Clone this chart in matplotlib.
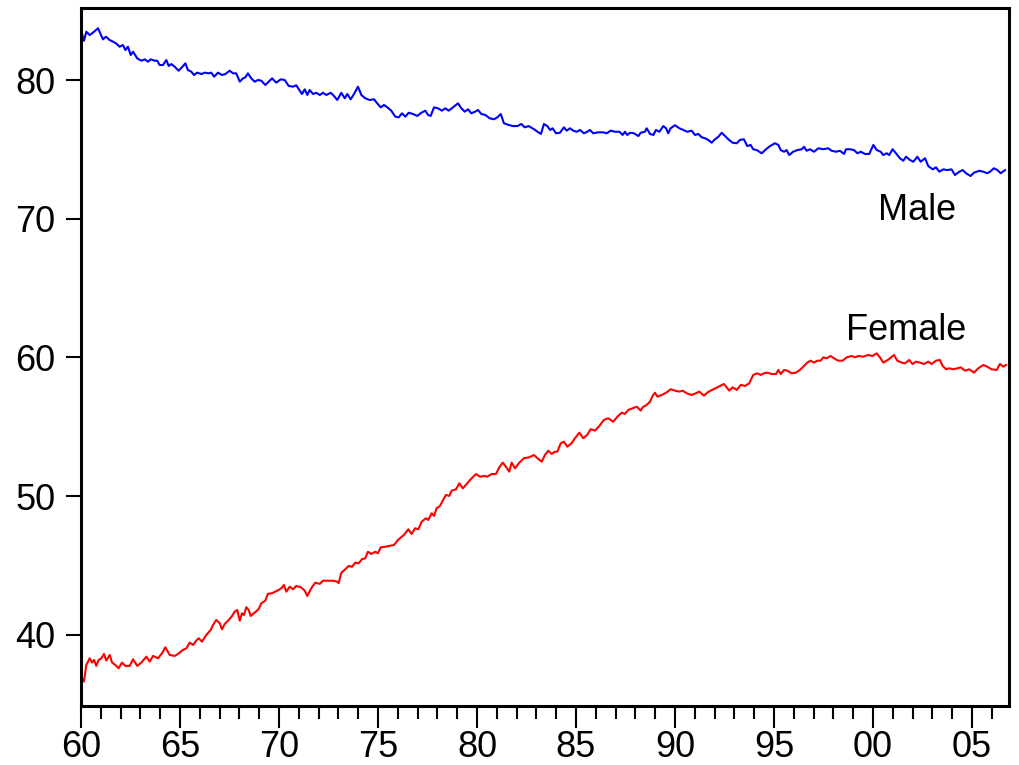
import matplotlib
matplotlib.use("Agg")
import matplotlib.pyplot as plt
from matplotlib.ticker import FixedLocator, MultipleLocator

plt.rcParams['font.family'] = ['Liberation Sans', 'DejaVu Sans']

male_years = [
    1960.00, 1960.15, 1960.27, 1960.44, 1960.66, 1960.86, 1961.01, 1961.11, 1961.26, 1961.45,
    1961.62, 1961.77, 1961.95, 1962.12, 1962.24, 1962.37, 1962.51, 1962.63, 1962.84, 1963.05,
    1963.22, 1963.38, 1963.52, 1963.72, 1963.85, 1963.97, 1964.14, 1964.31, 1964.43, 1964.56,
    1964.73, 1964.93, 1965.10, 1965.27, 1965.40, 1965.57, 1965.71, 1965.87, 1966.08, 1966.25,
    1966.45, 1966.58, 1966.72, 1966.92, 1967.12, 1967.29, 1967.51, 1967.68, 1967.84, 1968.02,
    1968.18, 1968.30, 1968.43, 1968.60, 1968.77, 1968.94, 1969.11, 1969.31, 1969.48, 1969.65,
    1969.86, 1970.09, 1970.29, 1970.49, 1970.71, 1970.87, 1971.05, 1971.16, 1971.30, 1971.43,
    1971.55, 1971.72, 1971.88, 1972.06, 1972.22, 1972.39, 1972.61, 1972.78, 1972.94, 1973.15,
    1973.32, 1973.45, 1973.62, 1973.79, 1973.99, 1974.16, 1974.36, 1974.58, 1974.80, 1974.96,
    1975.14, 1975.30, 1975.47, 1975.67, 1975.87, 1976.05, 1976.21, 1976.38, 1976.55, 1976.77,
    1976.98, 1977.19, 1977.39, 1977.53, 1977.66, 1977.83, 1978.03, 1978.23, 1978.40, 1978.57,
    1978.79, 1979.04, 1979.21, 1979.38, 1979.55, 1979.71, 1979.91, 1980.05, 1980.22, 1980.42,
    1980.64, 1980.86, 1981.03, 1981.20, 1981.36, 1981.60, 1981.82, 1982.04, 1982.24, 1982.41,
    1982.61, 1982.88, 1983.08, 1983.23, 1983.38, 1983.55, 1983.69, 1983.82, 1983.99, 1984.19,
    1984.39, 1984.53, 1984.70, 1984.86, 1985.04, 1985.20, 1985.40, 1985.57, 1985.71, 1985.87,
    1986.13, 1986.38, 1986.55, 1986.75, 1986.97, 1987.19, 1987.36, 1987.47, 1987.59, 1987.73,
    1987.93, 1988.15, 1988.27, 1988.48, 1988.57, 1988.74, 1988.91, 1989.04, 1989.21, 1989.41,
    1989.55, 1989.66, 1989.78, 1990.00, 1990.22, 1990.42, 1990.62, 1990.84, 1991.01, 1991.18,
    1991.35, 1991.52, 1991.68, 1991.85, 1992.02, 1992.19, 1992.36, 1992.53, 1992.69, 1992.91,
    1993.12, 1993.28, 1993.48, 1993.65, 1993.82, 1993.95, 1994.13, 1994.38, 1994.60, 1994.80,
    1995.05, 1995.22, 1995.34, 1995.51, 1995.64, 1995.77, 1995.97, 1996.18, 1996.40, 1996.52,
    1996.65, 1996.82, 1997.02, 1997.24, 1997.49, 1997.74, 1997.91, 1998.13, 1998.33, 1998.54,
    1998.64, 1998.84, 1999.04, 1999.21, 1999.38, 1999.60, 1999.81, 2000.02, 2000.19, 2000.39,
    2000.52, 2000.69, 2000.82, 2000.99, 2001.16, 2001.36, 2001.53, 2001.67, 2001.87, 2002.04,
    2002.24, 2002.41, 2002.63, 2002.79, 2003.02, 2003.18, 2003.35, 2003.55, 2003.75, 2003.97,
    2004.14, 2004.36, 2004.53, 2004.70, 2004.93, 2005.10, 2005.37, 2005.57, 2005.77, 2005.91,
    2006.11, 2006.28, 2006.45, 2006.67,
]
male_values = [
    83.60, 82.83, 83.48, 83.24, 83.48, 83.73, 83.24, 82.93, 83.12, 82.88,
    82.76, 82.64, 82.40, 82.52, 82.16, 82.40, 81.80, 82.04, 81.56, 81.39,
    81.49, 81.32, 81.49, 81.39, 81.39, 81.08, 81.08, 81.44, 81.01, 81.15,
    80.96, 80.67, 80.92, 81.20, 80.72, 80.60, 80.36, 80.53, 80.43, 80.53,
    80.48, 80.53, 80.24, 80.53, 80.36, 80.43, 80.67, 80.48, 80.48, 79.88,
    80.12, 80.19, 80.48, 80.12, 79.88, 80.00, 79.95, 79.64, 79.88, 80.12,
    79.81, 80.05, 80.00, 79.57, 79.52, 79.62, 79.23, 78.99, 79.33, 78.92,
    79.28, 78.99, 79.08, 78.92, 79.08, 78.92, 79.08, 78.85, 78.56, 79.08,
    78.68, 78.99, 78.61, 78.99, 79.52, 78.92, 78.68, 78.56, 78.61, 78.32,
    78.03, 78.20, 78.03, 77.79, 77.36, 77.31, 77.60, 77.36, 77.64, 77.55,
    77.41, 77.64, 77.79, 77.48, 77.41, 78.03, 77.96, 77.79, 77.96, 77.79,
    78.03, 78.32, 77.96, 77.72, 77.89, 77.60, 77.72, 77.84, 77.55, 77.48,
    77.24, 77.17, 77.31, 77.55, 76.88, 76.76, 76.68, 76.68, 76.83, 76.59,
    76.68, 76.45, 76.25, 76.11, 76.83, 76.68, 76.40, 76.52, 76.16, 76.20,
    76.59, 76.35, 76.52, 76.35, 76.27, 76.40, 76.16, 76.27, 76.40, 76.16,
    76.23, 76.23, 76.16, 76.35, 76.27, 76.27, 76.04, 76.27, 76.04, 76.20,
    76.16, 75.96, 76.20, 76.27, 76.52, 76.11, 76.04, 76.40, 76.27, 76.68,
    76.52, 76.16, 76.52, 76.74, 76.52, 76.40, 76.27, 76.35, 76.04, 76.11,
    75.87, 75.80, 75.68, 75.48, 75.73, 75.91, 76.20, 75.96, 75.73, 75.48,
    75.44, 75.68, 75.73, 75.24, 75.32, 75.01, 74.95, 74.72, 75.01, 75.24,
    75.44, 75.32, 74.95, 74.83, 74.95, 74.59, 74.83, 74.95, 75.01, 75.19,
    74.90, 75.01, 74.83, 75.08, 75.01, 75.08, 74.90, 74.83, 74.90, 74.67,
    75.01, 75.01, 74.95, 74.72, 74.83, 74.67, 74.67, 75.32, 74.95, 74.83,
    74.59, 74.72, 74.59, 75.01, 74.72, 74.36, 74.18, 74.47, 74.23, 74.11,
    74.47, 74.11, 74.36, 73.80, 73.56, 73.71, 73.39, 73.56, 73.51, 73.56,
    73.15, 73.39, 73.51, 73.28, 73.08, 73.32, 73.46, 73.39, 73.28, 73.39,
    73.64, 73.51, 73.28, 73.51,
]

female_years = [
    1960.00, 1960.15, 1960.27, 1960.44, 1960.56, 1960.66, 1960.77, 1960.89, 1961.03, 1961.16,
    1961.28, 1961.45, 1961.57, 1961.73, 1961.90, 1962.07, 1962.24, 1962.46, 1962.63, 1962.84,
    1963.05, 1963.30, 1963.47, 1963.64, 1963.89, 1964.09, 1964.26, 1964.48, 1964.73, 1964.90,
    1965.15, 1965.32, 1965.49, 1965.66, 1965.82, 1965.94, 1966.11, 1966.33, 1966.55, 1966.67,
    1966.83, 1967.01, 1967.12, 1967.26, 1967.46, 1967.63, 1967.76, 1967.89, 1968.02, 1968.13,
    1968.23, 1968.35, 1968.47, 1968.57, 1968.77, 1968.97, 1969.11, 1969.31, 1969.44, 1969.65,
    1969.81, 1969.98, 1970.12, 1970.25, 1970.37, 1970.54, 1970.71, 1970.87, 1971.10, 1971.30,
    1971.43, 1971.63, 1971.83, 1972.06, 1972.22, 1972.47, 1972.73, 1972.94, 1973.01, 1973.15,
    1973.35, 1973.52, 1973.69, 1973.85, 1974.03, 1974.19, 1974.36, 1974.49, 1974.66, 1974.86,
    1975.00, 1975.14, 1975.37, 1975.59, 1975.81, 1976.01, 1976.31, 1976.53, 1976.70, 1976.87,
    1977.04, 1977.21, 1977.42, 1977.54, 1977.71, 1977.83, 1977.96, 1978.13, 1978.27, 1978.43,
    1978.60, 1978.72, 1978.94, 1979.11, 1979.28, 1979.48, 1979.68, 1979.95, 1980.15, 1980.35,
    1980.52, 1980.74, 1980.96, 1981.13, 1981.30, 1981.46, 1981.63, 1981.75, 1981.92, 1982.14,
    1982.37, 1982.64, 1982.88, 1983.05, 1983.27, 1983.43, 1983.60, 1983.77, 1983.94, 1984.06,
    1984.23, 1984.39, 1984.56, 1984.78, 1984.95, 1985.17, 1985.37, 1985.57, 1985.74, 1985.96,
    1986.18, 1986.41, 1986.63, 1986.88, 1987.09, 1987.31, 1987.47, 1987.64, 1987.86, 1988.07,
    1988.27, 1988.37, 1988.57, 1988.74, 1988.87, 1988.99, 1989.11, 1989.33, 1989.55, 1989.78,
    1990.00, 1990.22, 1990.39, 1990.59, 1990.84, 1991.06, 1991.23, 1991.46, 1991.68, 1991.93,
    1992.20, 1992.47, 1992.61, 1992.74, 1992.91, 1993.12, 1993.32, 1993.54, 1993.75, 1993.95,
    1994.16, 1994.33, 1994.49, 1994.66, 1994.88, 1995.10, 1995.22, 1995.34, 1995.51, 1995.67,
    1995.89, 1996.11, 1996.31, 1996.48, 1996.68, 1996.85, 1997.02, 1997.19, 1997.36, 1997.49,
    1997.66, 1997.86, 1998.03, 1998.25, 1998.47, 1998.67, 1998.92, 1999.09, 1999.26, 1999.51,
    1999.76, 1999.98, 2000.19, 2000.35, 2000.52, 2000.69, 2000.86, 2001.06, 2001.23, 2001.45,
    2001.62, 2001.83, 2002.00, 2002.17, 2002.37, 2002.58, 2002.79, 2002.96, 2003.18, 2003.38,
    2003.52, 2003.69, 2003.85, 2004.06, 2004.26, 2004.43, 2004.65, 2004.86, 2005.10, 2005.32,
    2005.57, 2005.77, 2005.99, 2006.25, 2006.41, 2006.58, 2006.72,
]
female_values = [
    37.05, 36.64, 37.84, 38.32, 38.01, 38.20, 37.77, 38.20, 38.32, 38.63,
    38.15, 38.56, 38.01, 37.84, 37.60, 38.01, 37.77, 37.77, 38.25, 37.77,
    38.01, 38.44, 38.08, 38.49, 38.32, 38.68, 39.11, 38.56, 38.49, 38.63,
    38.92, 39.04, 39.45, 39.28, 39.59, 39.76, 39.52, 40.00, 40.36, 40.72,
    41.08, 40.84, 40.41, 40.79, 41.08, 41.37, 41.68, 41.80, 41.03, 41.56,
    41.44, 42.00, 41.80, 41.37, 41.61, 41.85, 42.29, 42.47, 42.96, 43.01,
    43.12, 43.24, 43.37, 43.60, 43.12, 43.48, 43.29, 43.53, 43.44, 43.19,
    42.81, 43.37, 43.77, 43.68, 43.91, 43.91, 43.91, 43.84, 43.73, 44.49,
    44.74, 44.97, 44.92, 45.21, 45.17, 45.46, 45.53, 46.00, 45.84, 46.00,
    45.89, 46.32, 46.36, 46.42, 46.49, 46.85, 47.21, 47.62, 47.28, 47.69,
    47.62, 48.17, 48.41, 48.29, 48.77, 48.58, 49.13, 49.30, 49.68, 50.09,
    50.02, 50.40, 50.50, 50.93, 50.57, 50.88, 51.22, 51.60, 51.41, 51.46,
    51.41, 51.60, 51.60, 52.09, 52.42, 52.13, 51.77, 52.42, 52.01, 52.42,
    52.74, 52.81, 52.97, 52.74, 52.49, 52.97, 53.28, 53.05, 53.21, 53.21,
    53.82, 53.93, 53.57, 53.82, 54.18, 54.58, 54.18, 54.42, 54.83, 54.73,
    55.06, 55.50, 55.62, 55.37, 55.73, 56.02, 55.93, 56.22, 56.34, 56.45,
    56.17, 56.41, 56.58, 56.82, 57.23, 57.46, 57.18, 57.30, 57.46, 57.71,
    57.61, 57.54, 57.61, 57.42, 57.30, 57.42, 57.54, 57.25, 57.52, 57.70,
    57.90, 58.09, 57.85, 57.61, 57.85, 57.66, 58.02, 57.95, 58.14, 58.74,
    58.86, 58.74, 58.86, 58.91, 58.81, 58.81, 59.10, 58.81, 59.10, 59.05,
    58.86, 58.91, 59.10, 59.34, 59.63, 59.77, 59.63, 59.77, 59.77, 60.01,
    59.94, 60.11, 59.94, 59.77, 59.77, 60.01, 60.11, 60.01, 60.11, 60.06,
    60.18, 60.11, 60.30, 60.01, 59.63, 59.77, 59.94, 60.18, 59.77, 59.63,
    59.58, 59.82, 59.53, 59.70, 59.63, 59.53, 59.70, 59.53, 59.77, 59.82,
    59.39, 59.15, 59.22, 59.15, 59.22, 59.29, 59.05, 59.15, 58.91, 59.22,
    59.46, 59.34, 59.15, 59.10, 59.53, 59.34, 59.46,
]

x_major_ticks = [1960, 1965, 1970, 1975, 1980, 1985, 1990, 1995, 2000, 2005]
x_tick_labels = ["60", "65", "70", "75", "80", "85", "90", "95", "00", "05"]
y_ticks = [40, 50, 60, 70, 80]
y_tick_labels = ["40", "50", "60", "70", "80"]

series_labels = ["Male", "Female"]
label_positions = [(2000.27, 69.91), (1998.62, 61.26)]

fig = plt.figure(figsize=(10.19, 7.65), dpi=100)
ax = fig.add_axes([81 / 1019, 1 - 706 / 765, (1009 - 81) / 1019, (706 - 8) / 765])

ax.plot(male_years, male_values, color="#0000ff", linewidth=1.5)
ax.plot(female_years, female_values, color="#ff0000", linewidth=1.5)

ax.set_xlim(1960, 2006.87)
ax.set_ylim(34.88, 85.19)

ax.xaxis.set_major_locator(FixedLocator(x_major_ticks))
ax.set_xticklabels(x_tick_labels)
ax.xaxis.set_minor_locator(MultipleLocator(1))
ax.set_yticks(y_ticks)
ax.set_yticklabels(y_tick_labels)

ax.tick_params(axis="x", which="major", direction="out", length=16, width=1.5,
               labelsize=26, pad=1.5, top=False)
ax.tick_params(axis="x", which="minor", direction="out", length=9, width=1.5, top=False)
ax.tick_params(axis="y", which="major", direction="out", length=10.5, width=1.5,
               labelsize=26, pad=8, right=False)

for sp in ax.spines.values():
    sp.set_linewidth(2.2)

for text, (tx, ty) in zip(series_labels, label_positions):
    ax.text(tx, ty, text, fontsize=26, ha="left", va="baseline", color="black")

fig.savefig("out.png", dpi=100)
